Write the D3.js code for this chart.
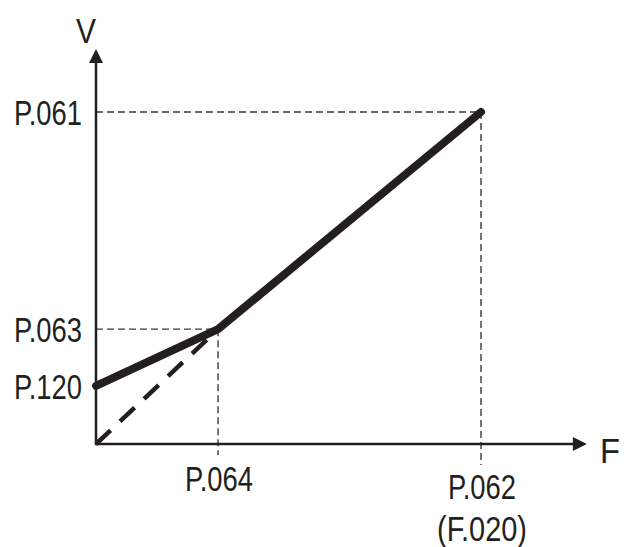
<!DOCTYPE html>
<html>
<head>
<meta charset="utf-8">
<script src="https://cdn.jsdelivr.net/npm/d3@7"></script>
<style>
html,body{margin:0;padding:0;background:#fff;}
svg{display:block;}
text{font-family:"Liberation Sans Narrow","Liberation Sans",Arial,sans-serif;fill:#231f20;}
</style>
</head>
<body>
<svg id="chart" width="624" height="547"></svg>
<script>
// Frequency positions (relative units, P.062 = 100)
const fKeys = ["P.064", "P.062"];
const fValues = [31.7, 100];
const fLabels = [["P.064"], ["P.062", "(F.020)"]];
// Voltage positions (relative units, P.061 = 100)
const vKeys = ["P.120", "P.063", "P.061"];
const vValues = [17.5, 34.6, 100];
// V/F curve points (F, V)
const curveF = [0, 31.7, 100];
const curveV = [17.5, 34.6, 100];
// Linear reference (dashed)
const refF = [0, 31.7];
const refV = [0, 34.6];
const axisNames = ["F", "V"];
const axisMax = [127.5, 119];

const ink = "#231f20";
const svg = d3.select("#chart");
const x = d3.scaleLinear().domain([0, 100]).range([96, 481]);
const y = d3.scaleLinear().domain([0, 100]).range([444, 112]);

// guide dashed lines
const gd = svg.append("g").attr("stroke", "#3a3a3a").attr("stroke-width", 1.4).attr("stroke-dasharray", "7,4").attr("fill", "none");
// horizontal guides: P.063 to P.064, P.061 to P.062
gd.append("line").attr("x1", x(0)).attr("x2", x(fValues[0])).attr("y1", y(vValues[1])).attr("y2", y(vValues[1]));
gd.append("line").attr("x1", x(0)).attr("x2", x(fValues[1])).attr("y1", y(vValues[2])).attr("y2", y(vValues[2]));
// vertical guides
gd.append("line").attr("x1", x(fValues[0])).attr("x2", x(fValues[0])).attr("y1", y(vValues[1])).attr("y2", y(0) + 11);
gd.append("line").attr("x1", x(fValues[1])).attr("x2", x(fValues[1])).attr("y1", y(vValues[2])).attr("y2", y(0) + 21);

// axes
const ax = svg.append("g").attr("stroke", ink).attr("stroke-width", 2.5);
ax.append("line").attr("x1", x(0)).attr("x2", x(axisMax[0]) - 10).attr("y1", y(0)).attr("y2", y(0));
ax.append("line").attr("x1", x(0)).attr("x2", x(0)).attr("y1", y(0) + 1.2).attr("y2", y(axisMax[1]) + 10);
// arrowheads
const xt = x(axisMax[0]), yt = y(axisMax[1]);
svg.append("path").attr("fill", ink)
  .attr("d", `M${xt},${y(0)} L${xt - 14},${y(0) - 7} L${xt - 14},${y(0) + 7} Z`);
svg.append("path").attr("fill", ink)
  .attr("d", `M${x(0)},${yt} L${x(0) - 7},${yt + 14} L${x(0) + 7},${yt + 14} Z`);

// reference dashed line
const line = d3.line().x(d => x(d[0])).y(d => y(d[1]));
svg.append("path").datum(refF.map((f, i) => [f, refV[i]]))
  .attr("d", line).attr("fill", "none").attr("stroke", ink)
  .attr("stroke-width", 4.5).attr("stroke-dasharray", "20,13");

// curve
svg.append("path").datum(curveF.map((f, i) => [f, curveV[i]]))
  .attr("d", line).attr("fill", "none").attr("stroke", ink)
  .attr("stroke-width", 8).attr("stroke-linecap", "round").attr("stroke-linejoin", "round");

// y labels
const fs = 35;
vKeys.forEach((k, i) => {
  svg.append("text").attr("x", 82).attr("y", y(vValues[i]) + 13)
    .attr("text-anchor", "end").attr("font-size", fs)
    .attr("textLength", 68).attr("lengthAdjust", "spacingAndGlyphs").text(k);
});
// x labels
fLabels.forEach((lines, i) => {
  lines.forEach((t, j) => {
    svg.append("text").attr("x", x(fValues[i]) + 1).attr("y", 491 + (i === 1 ? 8 : 0) + j * 42)
      .attr("text-anchor", "middle").attr("font-size", fs)
      .attr("textLength", t.length > 5 ? 90 : 68).attr("lengthAdjust", "spacingAndGlyphs").text(t);
  });
});
// axis names
svg.append("text").attr("x", 600).attr("y", 463).attr("font-size", fs)
  .attr("textLength", 20).attr("lengthAdjust", "spacingAndGlyphs").text(axisNames[0]);
svg.append("text").attr("x", 86).attr("y", 43).attr("text-anchor", "middle").attr("font-size", fs)
  .attr("textLength", 20).attr("lengthAdjust", "spacingAndGlyphs").text(axisNames[1]);
</script>
</body>
</html>
